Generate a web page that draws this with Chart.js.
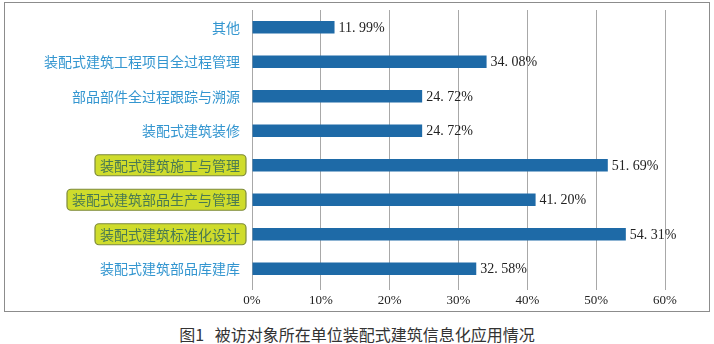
<!DOCTYPE html>
<html>
<head>
<meta charset="utf-8">
<title>被访对象所在单位装配式建筑信息化应用情况</title>
<script src="https://cdn.jsdelivr.net/npm/chart.js@4/dist/chart.umd.min.js"></script>
<style>
  body { margin: 0; background: #fff; width: 714px; height: 344px; position: relative; overflow: hidden; }
  #frame { position: absolute; left: 4px; top: 2px; width: 706px; height: 310px; border: 1.5px solid #8c8c8c; box-sizing: border-box; }
  #wrap { position: absolute; left: 6px; top: 4px; width: 703px; height: 304px; }
  #caption { position: absolute; left: 0; top: 322px; width: 714px; text-align: center;
    font-family: "Noto Sans CJK SC", sans-serif; font-size: 16px; color: #333; }
</style>
</head>
<body>
<div id="frame"></div>
<div id="wrap"><canvas id="chart"></canvas></div>
<div id="caption">图1&nbsp;&nbsp;&nbsp;被访对象所在单位装配式建筑信息化应用情况</div>
<script>
// categories, top to bottom
const categories = [
  '其他',
  '装配式建筑工程项目全过程管理',
  '部品部件全过程跟踪与溯源',
  '装配式建筑装修',
  '装配式建筑施工与管理',
  '装配式建筑部品生产与管理',
  '装配式建筑标准化设计',
  '装配式建筑部品库建库'
];
// share of respondents (%)
const values = [11.99, 34.08, 24.72, 24.72, 51.69, 41.20, 54.31, 32.58];
// labels shown with a highlight box
const highlighted = ['装配式建筑施工与管理', '装配式建筑部品生产与管理', '装配式建筑标准化设计'];
const xTicks = [0, 10, 20, 30, 40, 50, 60];

const catFont = '14px "Noto Sans CJK SC", sans-serif';
const numFont = '"Liberation Serif", "DejaVu Serif", serif';
const labelGap = 12;

// draw the yellow boxes behind the highlighted category labels
const labelBoxes = {
  id: 'labelBoxes',
  beforeDraw(chart) {
    const ctx = chart.ctx;
    const y = chart.scales.y;
    ctx.save();
    ctx.font = catFont;
    categories.forEach((c, i) => {
      if (!highlighted.includes(c)) return;
      const py = y.getPixelForTick(i);
      const w = ctx.measureText(c).width;
      const right = y.right - labelGap;
      const x0 = right - w - 5, x1 = right + 6;
      ctx.beginPath();
      ctx.roundRect(x0, py - 10.5, x1 - x0, 21, 4);
      ctx.fillStyle = '#cfdc2c';
      ctx.fill();
      ctx.lineWidth = 1.2;
      ctx.strokeStyle = '#7d8a3c';
      ctx.stroke();
    });
    ctx.restore();
  }
};

// value labels at bar ends
const valueLabels = {
  id: 'valueLabels',
  afterDatasetsDraw(chart) {
    const ctx = chart.ctx;
    const meta = chart.getDatasetMeta(0);
    ctx.save();
    ctx.font = '14px ' + numFont;
    ctx.fillStyle = '#222';
    ctx.textBaseline = 'middle';
    meta.data.forEach((bar, i) => {
      const txt = values[i].toFixed(2).replace('.', '. ') + '%';
      ctx.fillText(txt, bar.x + 4, bar.y + 1);
    });
    ctx.restore();
  }
};

new Chart(document.getElementById('chart'), {
  type: 'bar',
  data: {
    labels: categories,
    datasets: [{
      data: values,
      backgroundColor: '#1e6aa7',
      borderWidth: 0,
      barPercentage: 0.36,
      categoryPercentage: 1
    }]
  },
  options: {
    indexAxis: 'y',
    responsive: true,
    maintainAspectRatio: false,
    animation: false,
    layout: { padding: { left: 0, right: 44, top: 6, bottom: 0 } },
    plugins: { legend: { display: false }, tooltip: { enabled: false } },
    scales: {
      x: {
        min: 0,
        max: 60,
        afterBuildTicks(scale) { scale.ticks = xTicks.map(v => ({ value: v })); },
        afterFit(scale) { scale.height = 22; scale.paddingLeft = 0; scale.paddingRight = 0; },
        grid: { color: '#a8a8a8', lineWidth: 1, tickLength: 4, drawTicks: true },
        border: { display: false },
        ticks: {
          callback: v => v + '%',
          font: { family: numFont, size: 13 },
          color: '#222',
          padding: 3,
          maxRotation: 0
        }
      },
      y: {
        afterFit(scale) { scale.width = 246; scale.paddingTop = 0; scale.paddingBottom = 0; },
        grid: { display: false, drawTicks: false, tickLength: 0 },
        border: { display: false },
        ticks: {
          font: { family: '"Noto Sans CJK SC", sans-serif', size: 14 },
          color: ctx => highlighted.includes(categories[ctx.index]) ? '#4a7a52' : '#3496d0',
          padding: labelGap
        }
      }
    }
  },
  plugins: [labelBoxes, valueLabels]
});
</script>
</body>
</html>
